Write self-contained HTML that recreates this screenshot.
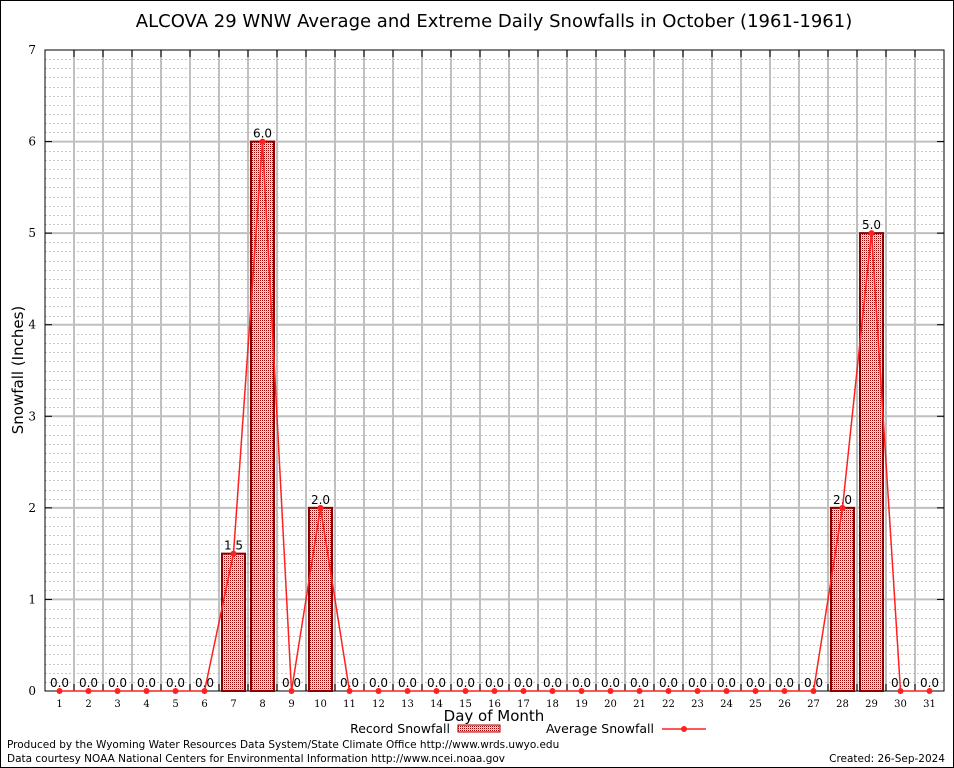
<!DOCTYPE html>
<html><head><meta charset="utf-8"><style>
body{margin:0;background:#fff;}
svg{display:block;font-family:"DejaVu Sans",sans-serif;}
</style></head><body>
<svg id="c" width="954" height="768">
<defs>
<pattern id="hatch" width="2" height="2" patternUnits="userSpaceOnUse">
<rect width="2" height="2" fill="#f6e6e6"/>
<rect width="1" height="1" fill="#a00000"/><rect x="1" y="1" width="1" height="1" fill="#e8b8b8"/>
</pattern>
</defs>
<rect x="0.5" y="0.5" width="953" height="767" fill="#fff" stroke="#000"/>
<text x="494" y="27" font-size="18" text-anchor="middle">ALCOVA 29 WNW Average and Extreme Daily Snowfalls in October (1961-1961)</text>
<g id="grid"></g>
<g id="marks"></g>
<text x="23" y="370" font-size="15" text-anchor="middle" transform="rotate(-90 23 370)">Snowfall (Inches)</text>
<text x="494" y="721" font-size="15" text-anchor="middle">Day of Month</text>
<g>
<text x="450" y="733" font-size="12.5" text-anchor="end">Record Snowfall</text>
<rect x="458" y="725" width="42" height="7" fill="url(#hatch)" stroke="#a00000"/>
</g>
<g>
<text x="654" y="733" font-size="12.5" text-anchor="end">Average Snowfall</text>
<line x1="662" y1="729" x2="706" y2="729" stroke="#ff2020" stroke-width="1.5"/>
<circle cx="684" cy="729" r="3" fill="#ff2020"/>
</g>
<text x="7" y="748" font-size="10.5">Produced by the Wyoming Water Resources Data System/State Climate Office http://www.wrds.uwyo.edu</text>
<text x="7" y="762" font-size="10.5">Data courtesy NOAA National Centers for Environmental Information http://www.ncei.noaa.gov</text>
<text x="945" y="762" font-size="10.5" text-anchor="end">Created: 26-Sep-2024</text>
</svg>
<script>
const days=[1,2,3,4,5,6,7,8,9,10,11,12,13,14,15,16,17,18,19,20,21,22,23,24,25,26,27,28,29,30,31];
const recordVals=[0,0,0,0,0,0,1.5,6,0,2,0,0,0,0,0,0,0,0,0,0,0,0,0,0,0,0,0,2,5,0,0];
const averageVals=[0,0,0,0,0,0,1.5,6,0,2,0,0,0,0,0,0,0,0,0,0,0,0,0,0,0,0,0,2,5,0,0];
const yTicks=[0,1,2,3,4,5,6,7];
const L=45,R=944,T=50,B=691,YMAX=7;
const step=(R-L)/days.length;
const xs=d=>L+(d-0.5)*step;
const ys=v=>B-(v/YMAX)*(B-T);
const NS="http://www.w3.org/2000/svg";
function mk(tag,attrs,parent){const e=document.createElementNS(NS,tag);for(const k in attrs)e.setAttribute(k,attrs[k]);parent.appendChild(e);return e;}
const g=document.getElementById('grid'),m=document.getElementById('marks');
for(let i=1;i<YMAX*10;i++){if(i%10===0)continue;const y=Math.round(ys(i/10))+0.5;
const l=mk('line',{x1:L,x2:R,y1:y,y2:y,stroke:'#c8c8c8','stroke-dasharray':'2,2'},g);

}
for(let i=1;i<days.length;i++){const x=L+i*step;
const l=mk('line',{x1:x,x2:x,y1:T,y2:B,stroke:'#c0c0c0','stroke-width':2},g);


mk('line',{x1:x,x2:x,y1:T,y2:T+7,stroke:'#000'},g);mk('line',{x1:x,x2:x,y1:B,y2:B-7,stroke:'#000'},g);}
yTicks.forEach(v=>{const y=ys(v);
if(v>0&&v<YMAX){const l=mk('line',{x1:L,x2:R,y1:y,y2:y,stroke:'#c0c0c0','stroke-width':2},g);

}
mk('line',{x1:L,x2:L+7,y1:y,y2:y,stroke:'#000'},g);mk('line',{x1:R,x2:R-7,y1:y,y2:y,stroke:'#000'},g);
const t=mk('text',{x:L-9,y:y+4,'font-size':12,'text-anchor':'end','font-family':'DejaVu Serif,serif'},g);t.textContent=v;

});
const frame=mk('rect',{x:L,y:T,width:R-L,height:B-T,fill:'none',stroke:'#000'},g);


days.forEach((d,i)=>{const t=mk('text',{x:xs(d),y:B+16,'font-size':10,'text-anchor':'middle','font-family':'DejaVu Serif,serif'},g);t.textContent=d;


const v=recordVals[i];
if(v>0){const b=mk('rect',{x:xs(d)-11.5,y:ys(v),width:23,height:B-ys(v),fill:'url(#hatch)',stroke:'#8b0000','stroke-width':2},m);

}
const lb=mk('text',{x:xs(d),y:ys(v)-4,'font-size':12,'text-anchor':'middle'},m);lb.textContent=v.toFixed(1);

});
const pts=days.map((d,i)=>xs(d)+','+ys(averageVals[i])).join(' ');
const pl=mk('polyline',{points:pts,fill:'none',stroke:'#ff2020','stroke-width':1.5},m);


days.forEach((d,i)=>{const c=mk('circle',{cx:xs(d),cy:ys(averageVals[i]),r:3,fill:'#ff2020'},m);

});
</script>
</body></html>
